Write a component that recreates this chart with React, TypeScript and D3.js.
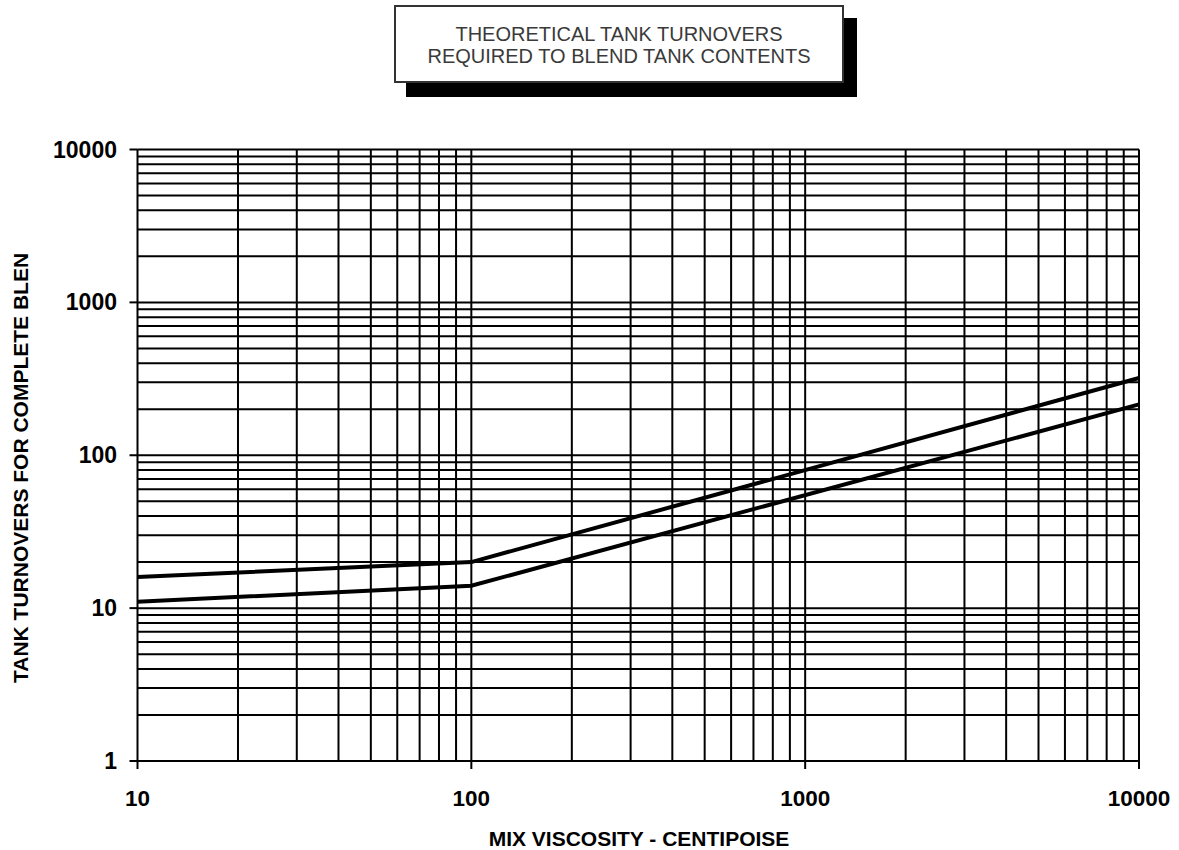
// Theoretical tank turnovers chart - log/log grid with two blend lines

import { useEffect, useRef } from "react";
import * as d3 from "d3";

const viscosity = [10, 100, 10000];
const upperTurnovers = [16, 20, 320];
const lowerTurnovers = [11, 14, 215];
const xTickLabels = [10, 100, 1000, 10000];
const yTickLabels = [1, 10, 100, 1000, 10000];
const titleLines = ["THEORETICAL TANK TURNOVERS", "REQUIRED TO BLEND TANK CONTENTS"];

const FONT = "'Liberation Sans', Arial, Helvetica, sans-serif";

export default function App() {
  const svgRef = useRef<SVGSVGElement>(null);

  useEffect(() => {
    if (!svgRef.current) return;
    const svg = d3.select(svgRef.current);
    svg.selectAll("*").remove();

    const left = 137.5;
    const right = 1139;
    const top = 149.5;
    const bottom = 761;

    const x = d3.scaleLog().domain([10, 10000]).range([left, right]);
    const y = d3.scaleLog().domain([1, 10000]).range([bottom, top]);

    svg.append("rect").attr("width", 1179).attr("height", 850).attr("fill", "#fff");

    // Title box with drop shadow
    svg.append("rect").attr("x", 406).attr("y", 18).attr("width", 451).attr("height", 79).attr("fill", "#000");
    svg
      .append("rect")
      .attr("x", 395)
      .attr("y", 6)
      .attr("width", 448)
      .attr("height", 76)
      .attr("fill", "#fff")
      .attr("stroke", "#333")
      .attr("stroke-width", 2);
    svg
      .append("g")
      .selectAll("text")
      .data(titleLines)
      .enter()
      .append("text")
      .attr("x", 619)
      .attr("y", (d, i) => 40.5 + i * 22)
      .attr("text-anchor", "middle")
      .attr("fill", "#3a3a3a")
      .style("font-family", FONT)
      .style("font-size", "20px")
      .text((d) => d);

    // Grid
    const gridX: number[] = [];
    for (let dec = 10; dec < 10000; dec *= 10) {
      for (let k = 1; k < 10; k++) gridX.push(dec * k);
    }
    gridX.push(10000);
    const gridY: number[] = [];
    for (let dec = 1; dec < 10000; dec *= 10) {
      for (let k = 1; k < 10; k++) gridY.push(dec * k);
    }
    gridY.push(10000);

    const grid = svg.append("g").attr("stroke", "#000").attr("stroke-width", 2);
    grid
      .selectAll("line.gx")
      .data(gridX)
      .enter()
      .append("line")
      .attr("x1", (d) => x(d))
      .attr("x2", (d) => x(d))
      .attr("y1", top)
      .attr("y2", bottom);
    grid
      .selectAll("line.gy")
      .data(gridY)
      .enter()
      .append("line")
      .attr("x1", left)
      .attr("x2", right)
      .attr("y1", (d) => y(d))
      .attr("y2", (d) => y(d));

    // Tick marks
    const ticks = svg.append("g").attr("stroke", "#000").attr("stroke-width", 2);
    ticks
      .selectAll("line.ty")
      .data(yTickLabels)
      .enter()
      .append("line")
      .attr("x1", left - 8)
      .attr("x2", left)
      .attr("y1", (d) => y(d))
      .attr("y2", (d) => y(d));
    ticks
      .selectAll("line.tx")
      .data(xTickLabels)
      .enter()
      .append("line")
      .attr("x1", (d) => x(d))
      .attr("x2", (d) => x(d))
      .attr("y1", bottom)
      .attr("y2", bottom + 8);

    // Tick labels
    svg
      .append("g")
      .selectAll("text")
      .data(yTickLabels)
      .enter()
      .append("text")
      .attr("x", 117)
      .attr("y", (d) => y(d) + 8)
      .attr("text-anchor", "end")
      .style("font-family", FONT)
      .style("font-weight", "bold")
      .style("font-size", "23px")
      .text((d) => String(d));
    svg
      .append("g")
      .selectAll("text")
      .data(xTickLabels)
      .enter()
      .append("text")
      .attr("x", (d) => x(d))
      .attr("y", 806)
      .attr("text-anchor", "middle")
      .style("font-family", FONT)
      .style("font-weight", "bold")
      .style("font-size", "22.5px")
      .text((d) => String(d));

    // Axis titles
    svg
      .append("text")
      .attr("x", 639)
      .attr("y", 846)
      .attr("text-anchor", "middle")
      .style("font-family", FONT)
      .style("font-weight", "bold")
      .style("font-size", "21px")
      .text("MIX VISCOSITY - CENTIPOISE");

    const defs = svg.append("defs");
    defs
      .append("clipPath")
      .attr("id", "ytitle-clip")
      .append("rect")
      .attr("x", 0)
      .attr("y", 253)
      .attr("width", 40)
      .attr("height", 500);
    svg
      .append("g")
      .attr("clip-path", "url(#ytitle-clip)")
      .append("text")
      .attr("transform", "translate(28,683) rotate(-90)")
      .attr("text-anchor", "start")
      .style("font-family", FONT)
      .style("font-weight", "bold")
      .style("font-size", "21px")
      .text("TANK TURNOVERS FOR COMPLETE BLENDING");

    // Blend lines
    const line = d3
      .line<number>()
      .x((d, i) => x(viscosity[i]))
      .y((d) => y(d));
    [upperTurnovers, lowerTurnovers].forEach((series) => {
      svg
        .append("path")
        .attr("d", line(series) || "")
        .attr("fill", "none")
        .attr("stroke", "#000")
        .attr("stroke-width", 4);
    });
  }, []);

  return <svg ref={svgRef} width={1179} height={850} style={{ position: "absolute", left: 0, top: 0 }} />;
}
